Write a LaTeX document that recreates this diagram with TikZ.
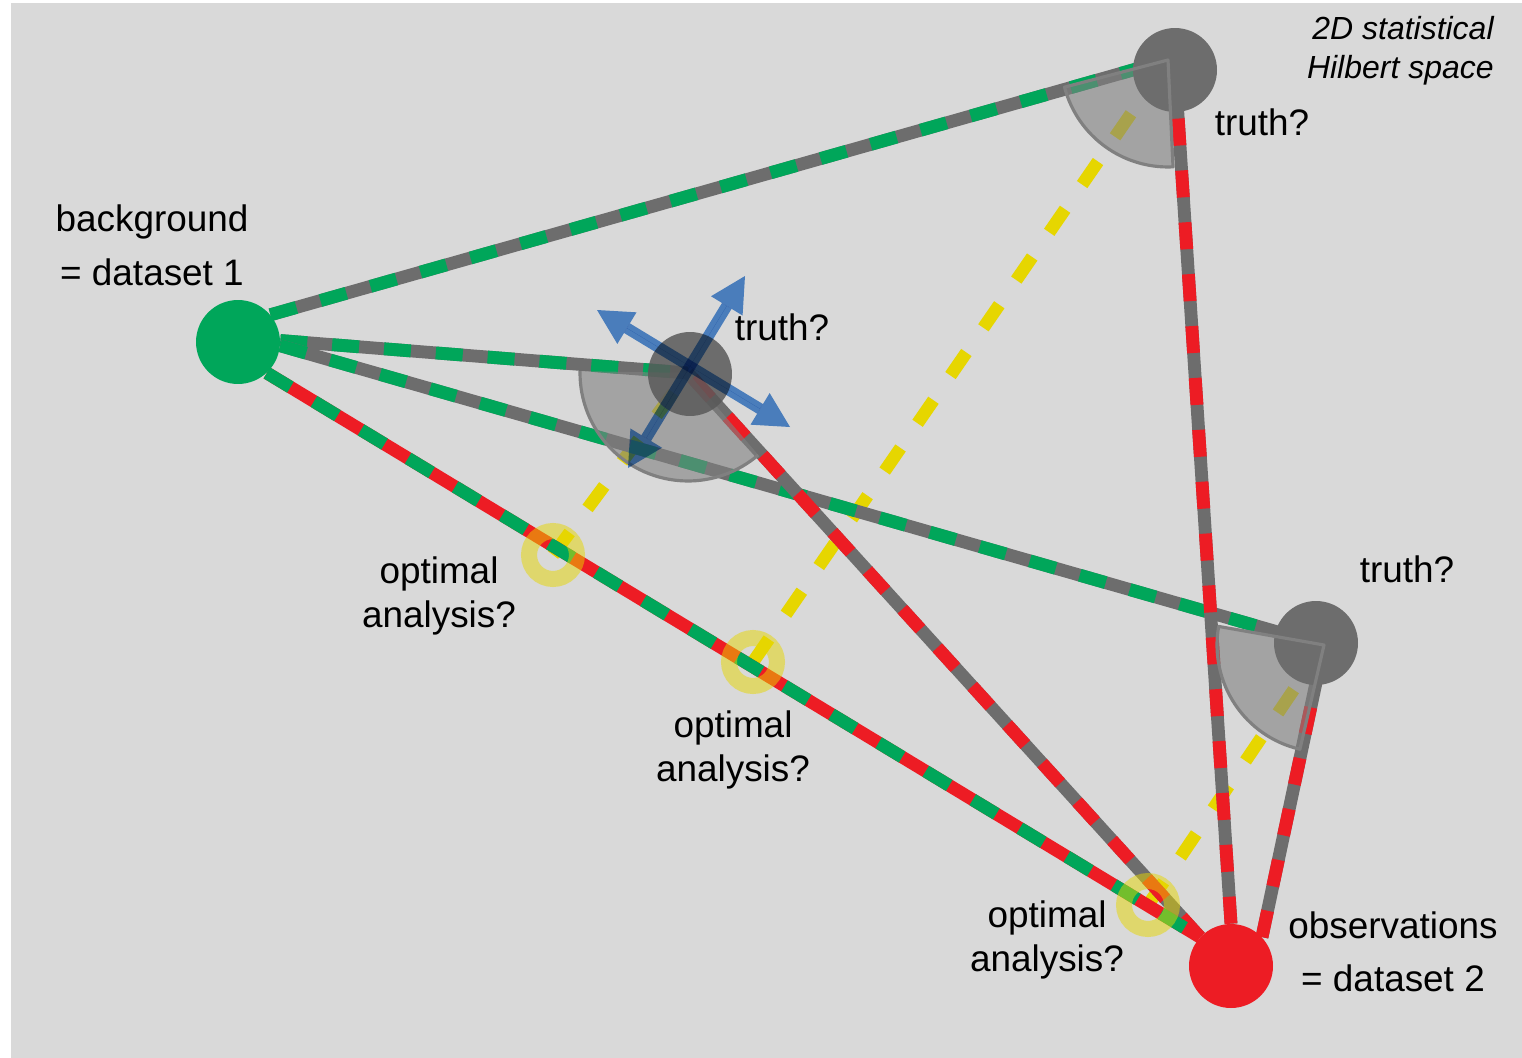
\documentclass[tikz,border=0pt]{standalone}
\usepackage{fontspec}
\setmainfont{Liberation Sans}
\usepackage{tikz}
\usetikzlibrary{arrows.meta,positioning}
\definecolor{panelgrey}{RGB}{217,217,217}
\definecolor{linegrey}{RGB}{109,109,109}
\definecolor{dotgrey}{RGB}{109,109,109}
\definecolor{bggreen}{RGB}{0,166,90}
\definecolor{obsred}{RGB}{237,28,36}
\definecolor{optyellow}{RGB}{230,214,0}
\definecolor{errblue}{RGB}{87,148,220}
\definecolor{wedgegrey}{RGB}{128,128,128}

\begin{document}
\begin{tikzpicture}[x=0.02cm,y=-0.02cm,
  lbl/.style={font=\fontsize{21}{25}\selectfont,align=center,inner sep=0pt},
  bigdot/.style={circle,minimum size=1.68cm,inner sep=0pt},
  truth/.style={bigdot,fill=dotgrey},
  bgline/.style={line width=7.3pt,draw=linegrey,
    postaction={draw=bggreen,line width=7.3pt,dash pattern=on 0.54cm off 0.5cm}},
  obsline/.style={line width=7.3pt,draw=linegrey,
    postaction={draw=obsred,line width=7.3pt,dash pattern=on 0.54cm off 0.5cm}},
  mixline/.style={line width=7.3pt,draw=obsred,
    postaction={draw=bggreen,line width=7.3pt,dash pattern=on 0.55cm off 0.55cm}},
  analine/.style={line width=7.2pt,draw=optyellow,dash pattern=on 0.56cm off 0.6cm},
  wedge/.style={fill=wedgegrey,fill opacity=0.6},
  wedgerim/.style={draw=wedgegrey,line width=1.8pt,line join=round},
  ring/.style={circle,minimum size=0.96cm,inner sep=0pt,draw=optyellow,line width=0.32cm,draw opacity=0.5},
  errarrow/.style={{Triangle[length=0.7cm,width=0.74cm,line width=0pt]}-{Triangle[length=0.7cm,width=0.74cm,line width=0pt]},
    line width=6.4pt,draw=errblue,fill=errblue,blend mode=multiply},
]
  \useasboundingbox (0,0) rectangle (1522,1058);
  \fill[panelgrey] (11,3) rectangle (1522,1058);

  % points of the sketch
  \coordinate (cornerA) at (1168,60);
  \coordinate (cornerB) at (688,373);
  \coordinate (cornerC) at (1324,645);
  \coordinate (anaA) at (753,662);
  \coordinate (anaB) at (553,555);
  \coordinate (anaC) at (1148,905);
  \node[bigdot] (bg) at (238,342) {};
  \node[bigdot] (obs) at (1231,966) {};
  \node[bigdot] (truthA) at (1175,70) {};
  \node[bigdot] (truthB) at (690,374) {};
  \node[bigdot] (truthC) at (1316,643) {};

  % projections
  \draw[analine] (anaA) -- (cornerA);
  \draw[analine] (anaB) -- (cornerB);
  \draw[analine] (anaC) -- (cornerC);

  % distances
  \draw[bgline] (bg.40) -- (cornerA);
  \draw[bgline] (bg.2) -- (cornerB);
  \draw[bgline] (bg.-5) -- (truthC.center);
  \draw[obsline] (obs.90) -- (truthA.center);
  \draw[obsline] (obs.137) -- (cornerB);
  \draw[obsline] (obs.43) -- (cornerC);
  \draw[mixline] (bg.-47) -- (obs.137);

  % right angles
  \fill[wedge] (cornerA) -- ++(194.7:2.14cm) arc[start angle=194.7,end angle=272.7,radius=2.14cm] -- cycle;
  \fill[wedge] (cornerB) -- ++(179:2.16cm) arc[start angle=179,end angle=310.6,radius=2.16cm] -- cycle;
  \fill[wedge] (cornerC) -- ++(170:2.14cm) arc[start angle=170,end angle=257,radius=2.14cm] -- cycle;

  \fill[bggreen] (bg) circle[radius=0.84cm];
  \fill[obsred] (obs) circle[radius=0.84cm];
  \node[truth] at (truthA) {};
  \node[truth,fill=black!65,fill opacity=0.85] at (truthB) {};
  \node[truth] at (truthC) {};

  \draw[wedgerim] (cornerA) -- ++(194.7:2.14cm) arc[start angle=194.7,end angle=272.7,radius=2.14cm] -- cycle;
  \draw[wedgerim] ([shift={(179:2.16cm)}]cornerB) arc[start angle=179,end angle=310.6,radius=2.16cm];
  \draw[wedgerim] (cornerC) -- ++(170:2.14cm) arc[start angle=170,end angle=257,radius=2.14cm] -- cycle;

  \node[ring] (ringA) at (anaA) {};
  \node[ring] (ringB) at (anaB) {};
  \node[ring] (ringC) at (anaC) {};

  % uncertainty of the truth
  \coordinate (errN) at (745,276);
  \coordinate (errS) at (628,468);
  \coordinate (errW) at (597,310);
  \coordinate (errE) at (790,427);
  \draw[errarrow] (errS) -- (errN);
  \draw[errarrow] (errW) -- (errE);

  \node[lbl,font=\fontsize{18.2}{22}\selectfont\itshape,align=right,anchor=east] (space) at (1494,51) {2D statistical\\Hilbert space};
  \node[lbl,font=\fontsize{21}{30.6}\selectfont] (bglbl) at (152,245) {background\\= dataset 1};
  \node[lbl,font=\fontsize{21}{30}\selectfont] (obslbl) at (1393,952) {observations\\= dataset 2};
  \node[lbl] (truthlblA) at (1262,122) {truth?};
  \node[lbl] (truthlblB) at (782,327) {truth?};
  \node[lbl] (truthlblC) at (1407,569) {truth?};
  \node[lbl] (analblB) at (439,596) {optimal\\analysis?};
  \node[lbl] (analblA) at (733,750) {optimal\\analysis?};
  \node[lbl] (analblC) at (1047,940) {optimal\\analysis?};
\end{tikzpicture}
\end{document}
